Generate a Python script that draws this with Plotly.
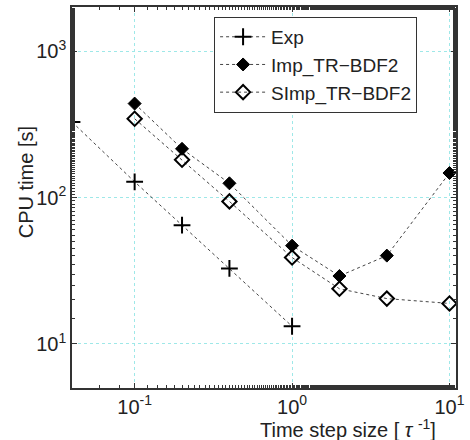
import plotly.graph_objects as go
import numpy as np

exp_x = [0.04, 0.1, 0.2, 0.4, 1]
exp_y = [328, 128, 64.7, 32.8, 13.2]
imp_x = [0.1, 0.2, 0.4, 1, 2, 4, 10]
imp_y = [438, 215, 125, 46.9, 29.1, 40.1, 147]
simp_x = [0.1, 0.2, 0.4, 1, 2, 4, 10]
simp_y = [345, 181, 94, 38.9, 23.8, 20.4, 18.9]

x_tickvals = [0.1, 1, 10]
x_ticktext = ["10<sup>-1</sup>", "10<sup>0</sup>", "10<sup>1</sup>"]
y_tickvals = [10, 100, 1000]
y_ticktext = ["10<sup>1</sup>", "10<sup>2</sup>", "10<sup>3</sup>"]

FONT = "Liberation Sans, Arial, sans-serif"
line_style = dict(color="#444", width=1, dash="dot")

fig = go.Figure()
fig.add_trace(go.Scatter(x=exp_x, y=exp_y, name="Exp", mode="lines+markers",
                         line=line_style,
                         marker=dict(symbol="cross-thin", size=12, color="black",
                                     line=dict(color="black", width=2))))
fig.add_trace(go.Scatter(x=imp_x, y=imp_y, name="Imp_TR\u2212BDF2", mode="lines+markers",
                         line=line_style,
                         marker=dict(symbol="diamond", size=10, color="black",
                                     line=dict(color="black", width=1))))
fig.add_trace(go.Scatter(x=simp_x, y=simp_y, name="SImp_TR\u2212BDF2", mode="lines+markers",
                         line=line_style,
                         marker=dict(symbol="diamond-open", size=11, color="black",
                                     line=dict(color="black", width=2))))

axis_common = dict(
    type="log", showline=True, linecolor="#333", linewidth=1.5, mirror="ticks",
    ticks="inside", ticklen=5, tickcolor="#333",
    showgrid=True, gridcolor="#9ee8e8", griddash="dot", gridwidth=1,
    zeroline=False,
    minor=dict(ticks="inside", ticklen=3, tickcolor="#333", showgrid=False),
    tickfont=dict(family=FONT, size=20, color="#222"),
)

fig.update_layout(
    width=470, height=440,
    margin=dict(l=72, r=11, t=5, b=52),
    paper_bgcolor="white", plot_bgcolor="white",
    font=dict(family=FONT, size=20, color="#222"),
    showlegend=True,
    legend=dict(x=0.37, y=0.974, xanchor="left", yanchor="top",
                bordercolor="#333", borderwidth=1, bgcolor="white",
                font=dict(family=FONT, size=19, color="#222"),
                itemwidth=46),
    xaxis=dict(range=[np.log10(0.04), np.log10(11)], tickvals=x_tickvals,
               ticktext=x_ticktext, **axis_common),
    yaxis=dict(range=[np.log10(5), np.log10(2000)], tickvals=y_tickvals,
               ticktext=y_ticktext, **axis_common),
)

fig.add_annotation(text="Time step size [ <i>\u03c4</i> <sup>-1</sup>]", xref="paper", yref="paper",
                   x=0.72, y=-0.106, xanchor="center", yanchor="middle", showarrow=False,
                   font=dict(family=FONT, size=20, color="#222"))
fig.add_annotation(text="CPU time [s]", xref="paper", yref="paper",
                   x=-0.12, y=0.54, xanchor="center", yanchor="middle", showarrow=False,
                   textangle=-90, font=dict(family=FONT, size=20, color="#222"))

fig.write_html("out.html")
